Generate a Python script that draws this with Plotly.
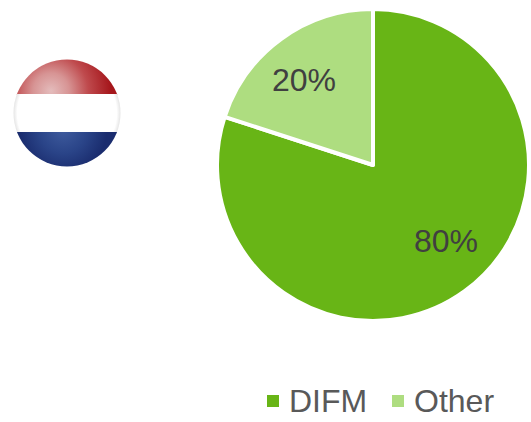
import base64
import plotly.graph_objects as go

labels = ["DIFM", "Other"]
values = [80, 20]
text_labels = ["80%", "20%"]
colors = ["#68B516", "#AEDD80"]
W, H = 531, 422

flag_svg = """<svg xmlns="http://www.w3.org/2000/svg" width="108" height="108" viewBox="0 0 108 108">
<defs>
<clipPath id="c"><circle cx="54" cy="54" r="53.5"/></clipPath>
<radialGradient id="r" gradientUnits="userSpaceOnUse" cx="38" cy="32" r="60">
<stop offset="0" stop-color="#E4BCBC"/><stop offset="0.3" stop-color="#D79494"/>
<stop offset="0.62" stop-color="#BF4A4D"/><stop offset="1" stop-color="#A5161B"/></radialGradient>
<radialGradient id="b" gradientUnits="userSpaceOnUse" cx="50" cy="70" r="44">
<stop offset="0" stop-color="#3F5C9E"/><stop offset="0.55" stop-color="#2A4488"/>
<stop offset="1" stop-color="#1A2C6E"/></radialGradient>
<radialGradient id="w" gradientUnits="userSpaceOnUse" cx="54" cy="54" r="54">
<stop offset="0.92" stop-color="#FFFFFF"/><stop offset="1" stop-color="#E2E2E2"/></radialGradient>
</defs>
<g clip-path="url(#c)">
<rect x="0" y="0" width="108" height="36" fill="url(#r)"/>
<rect x="0" y="35" width="108" height="39" fill="url(#w)"/>
<rect x="0" y="73" width="108" height="35" fill="url(#b)"/>
</g></svg>"""
flag_uri = "data:image/svg+xml;base64," + base64.b64encode(flag_svg.encode()).decode()

fig = go.Figure(go.Pie(
    labels=labels, values=values, textinfo="none",
    sort=False, direction="clockwise", rotation=0,
    marker=dict(colors=colors, line=dict(color="white", width=4)),
    domain=dict(x=[217/W, 529/W], y=[1-322/H, 1-8/H]),
    showlegend=False,
))
for t, x, y in [(text_labels[0], 446, 241), (text_labels[1], 304, 80)]:
    fig.add_annotation(text=t, xref="paper", yref="paper", x=x/W, y=1-y/H, xanchor="center", yanchor="middle",
                       showarrow=False, font=dict(family="Liberation Sans", size=32, color="#404040"))
fig.add_layout_image(source=flag_uri, xref="paper", yref="paper", x=13/W, y=1-59/H,
                     sizex=108/W, sizey=108/H, xanchor="left", yanchor="top", sizing="stretch", layer="above")
for x, c, t in [(267, colors[0], labels[0]), (392, colors[1], labels[1])]:
    fig.add_shape(type="rect", xref="paper", yref="paper", x0=x/W, x1=(x+12)/W, y0=1-407/H, y1=1-395/H,
                  fillcolor=c, line=dict(width=0))
    fig.add_annotation(text=t, xref="paper", yref="paper", x=(x+20)/W, y=1-401/H, xanchor="left", yanchor="middle",
                       showarrow=False, font=dict(family="Liberation Sans", size=32, color="#595959"))
fig.update_layout(width=W, height=H, margin=dict(l=0, r=0, t=0, b=0), paper_bgcolor="white")
fig.write_html("out.html", config=dict(displayModeBar=False),
               post_script="document.body.style.margin='0';document.body.style.overflow='hidden';")
